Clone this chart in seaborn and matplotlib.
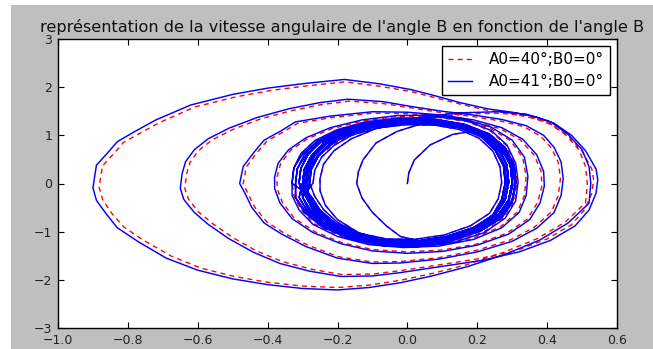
import numpy as np
import pandas as pd
import matplotlib
matplotlib.use("Agg")
import matplotlib.pyplot as plt
from matplotlib.patches import Rectangle
import seaborn as sns

# ---------------- data ----------------
title = "représentation de la vitesse angulaire de l'angle B en fonction de l'angle B"
label_red = "A0=40°;B0=0°"
label_blue = "A0=41°;B0=0°"
xticks = [-1.0, -0.8, -0.6, -0.4, -0.2, 0.0, 0.2, 0.4, 0.6]
yticks = [-3, -2, -1, 0, 1, 2, 3]

# start of the trajectory and the two small inner loops (shared by both runs)
start_x = [0.0, 0.004, 0.02, 0.065, 0.13, 0.2, 0.25, 0.28, 0.3, 0.302, 0.29, 0.26, 0.2, 0.12, 0.04,
           -0.02, -0.06, -0.1, -0.13, -0.145, -0.14, -0.127, -0.09, -0.03, 0.04, 0.12, 0.19, 0.24,
           0.28, 0.3, 0.31, 0.3, 0.27, 0.21, 0.12, 0.03, -0.06, -0.14, -0.2, -0.235, -0.25,
           -0.25, -0.24, -0.21, -0.16, -0.09, 0.0, 0.09, 0.17, 0.23, 0.27, 0.295, 0.3, 0.29, 0.26,
           0.2, 0.12, 0.03, -0.06, -0.15, -0.22, -0.265, -0.29]
start_y = [0.0, 0.22, 0.49, 0.8, 1.02, 1.1, 0.92, 0.65, 0.3, -0.05, -0.4, -0.72, -0.98, -1.15, -1.2,
           -1.1, -0.88, -0.6, -0.3, 0.0, 0.25, 0.49, 0.84, 1.08, 1.24, 1.27, 1.15, 0.95,
           0.65, 0.3, -0.05, -0.4, -0.72, -0.98, -1.16, -1.24, -1.2, -1.02, -0.75, -0.45, -0.15,
           0.1, 0.4, 0.68, 0.93, 1.14, 1.27, 1.3, 1.2, 1.0, 0.72, 0.38, 0.02, -0.34, -0.66,
           -0.94, -1.14, -1.24, -1.23, -1.1, -0.86, -0.57, -0.28]

# thick central band, first part (shared)
band1_x = [-0.31, -0.305, -0.285, -0.25, -0.19, -0.11, -0.02, 0.07, 0.15, 0.215, 0.26, 0.285, 0.29, 0.28, 0.25, 0.195, 0.115, 0.025, -0.065, -0.155, -0.225, -0.275, -0.30,
           -0.27, -0.265, -0.245, -0.21, -0.16, -0.09, -0.005, 0.08, 0.15, 0.205, 0.245, 0.265, 0.27, 0.26, 0.235, 0.18, 0.105, 0.02, -0.06, -0.14, -0.2, -0.24, -0.265,
           -0.28, -0.275, -0.255, -0.22, -0.165, -0.09, 0.0, 0.09, 0.17, 0.235, 0.28, 0.305, 0.31, 0.30, 0.27, 0.21, 0.13, 0.04, -0.05, -0.14, -0.205, -0.25, -0.275,
           -0.33, -0.325, -0.305, -0.265, -0.2, -0.12, -0.025, 0.075, 0.165, 0.235, 0.28, 0.305, 0.31, 0.30, 0.27, 0.21, 0.125, 0.03, -0.07, -0.165, -0.245, -0.295, -0.32,
           -0.32, -0.315, -0.295, -0.255, -0.195, -0.115, -0.02, 0.075, 0.16, 0.225, 0.27, 0.295, 0.30, 0.29, 0.26, 0.20, 0.12, 0.03, -0.065, -0.16, -0.235, -0.285, -0.31,
           -0.30, -0.295, -0.275, -0.24, -0.18, -0.10, -0.01, 0.08, 0.16, 0.225, 0.27, 0.295, 0.30, 0.29, 0.26, 0.20, 0.12, 0.03, -0.06, -0.15, -0.22, -0.265, -0.29,
           -0.285, -0.28, -0.26, -0.225, -0.17, -0.095, -0.005, 0.08, 0.155, 0.215, 0.255, 0.28, 0.285, 0.275, 0.25, 0.19, 0.11, 0.025, -0.06, -0.145, -0.21, -0.255, -0.28,
           -0.29, -0.285, -0.265, -0.23, -0.175, -0.10, -0.01, 0.075, 0.15, 0.21, 0.25, 0.275, 0.28, 0.27, 0.245, 0.19, 0.11, 0.025, -0.06, -0.145, -0.21, -0.255, -0.28]
band1_y = [0.02, 0.31, 0.60, 0.86, 1.08, 1.25, 1.33, 1.31, 1.21, 1.01, 0.73, 0.39, 0.03, -0.35, -0.68, -0.96, -1.16, -1.26, -1.25, -1.12, -0.88, -0.59, -0.29,
           0.01, 0.28, 0.55, 0.79, 1.0, 1.15, 1.22, 1.21, 1.12, 0.94, 0.67, 0.35, 0.02, -0.32, -0.62, -0.88, -1.07, -1.16, -1.15, -1.03, -0.81, -0.54, -0.27,
           0.01, 0.29, 0.57, 0.82, 1.04, 1.19, 1.27, 1.26, 1.17, 0.98, 0.71, 0.37, 0.01, -0.33, -0.65, -0.92, -1.11, -1.21, -1.20, -1.07, -0.84, -0.56, -0.27,
           0.0, 0.32, 0.62, 0.89, 1.12, 1.28, 1.36, 1.34, 1.23, 1.03, 0.75, 0.4, 0.02, -0.36, -0.7, -0.99, -1.2, -1.3, -1.29, -1.15, -0.9, -0.6, -0.3,
           0.0, 0.31, 0.60, 0.87, 1.10, 1.26, 1.35, 1.33, 1.22, 1.02, 0.74, 0.39, 0.02, -0.35, -0.68, -0.97, -1.18, -1.28, -1.27, -1.13, -0.89, -0.59, -0.29,
           0.0, 0.29, 0.57, 0.83, 1.04, 1.2, 1.28, 1.27, 1.17, 0.99, 0.71, 0.37, 0.02, -0.34, -0.67, -0.95, -1.15, -1.25, -1.24, -1.11, -0.87, -0.58, -0.28,
           0.01, 0.29, 0.56, 0.81, 1.02, 1.18, 1.25, 1.24, 1.15, 0.97, 0.69, 0.36, 0.02, -0.33, -0.64, -0.91, -1.1, -1.2, -1.19, -1.06, -0.84, -0.55, -0.27,
           0.01, 0.30, 0.58, 0.83, 1.05, 1.21, 1.29, 1.28, 1.18, 0.99, 0.71, 0.37, 0.02, -0.33, -0.65, -0.93, -1.12, -1.22, -1.21, -1.08, -0.85, -0.56, -0.28]

# large excursions, A0 = 41 deg (blue)
blue_outer_x = [-0.30, -0.295, -0.27, -0.23, -0.17, -0.09, 0.0, 0.09, 0.17, 0.24, 0.285, 0.31, 0.317,
                0.31, 0.28, 0.22, 0.13, 0.03, -0.07, -0.16, -0.23, -0.27, -0.29,
                -0.29, -0.28, -0.25, -0.2, -0.13, -0.04, 0.06, 0.16, 0.26, 0.34, 0.41, 0.46, 0.5, 0.52, 0.525,
                0.52, 0.46, 0.38, 0.28, 0.17, 0.07, -0.02, -0.11, -0.2, -0.3, -0.4, -0.5, -0.6, -0.69, -0.77, -0.83, -0.86, -0.89, -0.9,
                -0.895, -0.89, -0.86, -0.83, -0.78, -0.72, -0.62, -0.5, -0.4, -0.29, -0.18, -0.08, 0.01, 0.08, 0.15, 0.23, 0.3, 0.37, 0.42, 0.47, 0.51, 0.54, 0.545,
                0.54, 0.52, 0.48, 0.41, 0.32, 0.21, 0.1, -0.02, -0.1, -0.19, -0.28, -0.365, -0.44, -0.51, -0.57, -0.61, -0.64, -0.65,
                -0.645, -0.635, -0.61, -0.57, -0.51, -0.43, -0.34, -0.25, -0.17, -0.07, 0.01, 0.1, 0.19, 0.27, 0.34, 0.39, 0.42, 0.44, 0.446,
                0.44, 0.42, 0.37, 0.3, 0.2, 0.09, -0.02, -0.1, -0.2, -0.29, -0.36, -0.41, -0.445, -0.465,
                -0.48, -0.47, -0.44, -0.41, -0.36, -0.32, -0.22, -0.1, 0.0, 0.1, 0.19, 0.27, 0.33, 0.37, 0.39, 0.392,
                0.38, 0.35, 0.29, 0.2, 0.1, 0.0, -0.1, -0.19, -0.27, -0.33, -0.365, -0.38,
                -0.38, -0.37, -0.34, -0.29, -0.22, -0.13, -0.03, 0.07, 0.16, 0.24, 0.3, 0.335, 0.345,
                0.34, 0.32, 0.27, 0.19, 0.09, -0.01, -0.11, -0.2, -0.27, -0.31, -0.33]
blue_outer_y = [0.0, 0.3, 0.6, 0.87, 1.09, 1.25, 1.35, 1.38, 1.3, 1.1, 0.8, 0.42, 0.03,
                -0.36, -0.72, -1.02, -1.23, -1.31, -1.28, -1.13, -0.88, -0.58, -0.28,
                0.0, 0.32, 0.62, 0.9, 1.12, 1.29, 1.4, 1.47, 1.49, 1.44, 1.28, 1.02, 0.7, 0.35, 0.0,
                -0.41, -0.82, -1.17, -1.47, -1.73, -1.92, -2.06, -2.16, -2.21, -2.18, -2.1, -1.98, -1.8, -1.55, -1.21, -0.92, -0.65, -0.35, -0.09,
                0.15, 0.38, 0.62, 0.87, 1.08, 1.32, 1.63, 1.85, 1.98, 2.08, 2.16, 2.07, 1.95, 1.82, 1.68, 1.55, 1.48, 1.38, 1.25, 1.0, 0.68, 0.3, 0.08,
                -0.2, -0.55, -0.88, -1.18, -1.42, -1.6, -1.72, -1.85, -1.92, -1.93, -1.82, -1.66, -1.43, -1.15, -0.85, -0.6, -0.33, -0.1,
                0.2, 0.45, 0.7, 0.93, 1.15, 1.37, 1.55, 1.68, 1.75, 1.7, 1.6, 1.5, 1.42, 1.33, 1.2, 1.0, 0.75, 0.45, 0.1,
                -0.25, -0.6, -0.93, -1.2, -1.42, -1.57, -1.65, -1.66, -1.55, -1.31, -1.05, -0.82, -0.5, -0.2,
                0.0, 0.35, 0.64, 0.9, 1.1, 1.28, 1.4, 1.49, 1.48, 1.42, 1.32, 1.16, 0.92, 0.6, 0.25, -0.05,
                -0.4, -0.75, -1.05, -1.28, -1.41, -1.45, -1.4, -1.25, -1.02, -0.73, -0.4, -0.1,
                0.14, 0.42, 0.7, 0.95, 1.16, 1.32, 1.41, 1.42, 1.34, 1.17, 0.9, 0.55, 0.15,
                -0.25, -0.6, -0.92, -1.16, -1.3, -1.33, -1.27, -1.1, -0.85, -0.55, -0.25]

# large excursions, A0 = 40 deg (red dashed), slightly inside the blue ones
red_outer_x = [-0.298, -0.292, -0.268, -0.228, -0.168, -0.09, 0.0, 0.09, 0.17, 0.238, 0.283, 0.307, 0.314,
               0.307, 0.277, 0.218, 0.13, 0.03, -0.07, -0.158, -0.228, -0.268, -0.288,
               -0.288, -0.278, -0.248, -0.198, -0.13, -0.04, 0.06, 0.16, 0.26, 0.34, 0.405, 0.455, 0.492, 0.51, 0.515,
               0.51, 0.452, 0.373, 0.275, 0.168, 0.07, -0.02, -0.11, -0.2, -0.3, -0.4, -0.495, -0.59, -0.675, -0.755, -0.812, -0.845, -0.872, -0.882,
               -0.878, -0.872, -0.843, -0.813, -0.764, -0.705, -0.608, -0.49, -0.392, -0.285, -0.178, -0.08, 0.01, 0.08, 0.15, 0.228, 0.297, 0.364, 0.413, 0.462, 0.5, 0.528, 0.533,
               0.528, 0.508, 0.469, 0.4, 0.313, 0.205, 0.1, -0.02, -0.1, -0.187, -0.275, -0.358, -0.432, -0.5, -0.558, -0.598, -0.627, -0.637,
               -0.632, -0.622, -0.598, -0.558, -0.5, -0.421, -0.333, -0.245, -0.167, -0.07, 0.01, 0.1, 0.187, 0.265, 0.333, 0.382, 0.412, 0.432, 0.438,
               0.432, 0.412, 0.363, 0.295, 0.197, 0.09, -0.02, -0.1, -0.197, -0.285, -0.353, -0.402, -0.437, -0.457,
               -0.47, -0.461, -0.432, -0.402, -0.353, -0.314, -0.216, -0.1, 0.0, 0.1, 0.187, 0.265, 0.324, 0.363, 0.383, 0.385,
               0.373, 0.343, 0.285, 0.197, 0.1, 0.0, -0.1, -0.187, -0.265, -0.324, -0.358, -0.373,
               -0.373, -0.363, -0.334, -0.285, -0.216, -0.128, -0.03, 0.07, 0.158, 0.236, 0.295, 0.33, 0.34,
               0.335, 0.315, 0.266, 0.187, 0.09, -0.01, -0.11, -0.197, -0.266, -0.305, -0.325]
red_outer_y = [0.0, 0.3, 0.59, 0.86, 1.08, 1.24, 1.34, 1.37, 1.29, 1.09, 0.79, 0.42, 0.03,
               -0.35, -0.71, -1.01, -1.22, -1.3, -1.27, -1.12, -0.87, -0.57, -0.28,
               0.0, 0.31, 0.61, 0.88, 1.1, 1.26, 1.37, 1.44, 1.46, 1.41, 1.26, 1.0, 0.69, 0.35, 0.0,
               -0.4, -0.8, -1.14, -1.43, -1.69, -1.87, -2.01, -2.11, -2.16, -2.13, -2.05, -1.93, -1.76, -1.51, -1.18, -0.9, -0.63, -0.34, -0.09,
               0.15, 0.37, 0.6, 0.85, 1.05, 1.28, 1.59, 1.8, 1.93, 2.03, 2.11, 2.02, 1.91, 1.78, 1.65, 1.52, 1.45, 1.35, 1.22, 0.98, 0.67, 0.3, 0.08,
               -0.2, -0.54, -0.86, -1.15, -1.39, -1.56, -1.68, -1.81, -1.88, -1.89, -1.78, -1.62, -1.4, -1.12, -0.83, -0.59, -0.32, -0.1,
               0.2, 0.44, 0.68, 0.91, 1.12, 1.34, 1.51, 1.64, 1.71, 1.66, 1.57, 1.47, 1.39, 1.3, 1.18, 0.98, 0.74, 0.44, 0.1,
               -0.25, -0.59, -0.91, -1.17, -1.39, -1.54, -1.62, -1.63, -1.52, -1.28, -1.03, -0.8, -0.49, -0.2,
               0.0, 0.34, 0.63, 0.88, 1.08, 1.25, 1.37, 1.46, 1.45, 1.39, 1.29, 1.14, 0.9, 0.59, 0.25, -0.05,
               -0.39, -0.74, -1.03, -1.26, -1.38, -1.42, -1.37, -1.23, -1.0, -0.72, -0.39, -0.1,
               0.14, 0.41, 0.69, 0.93, 1.14, 1.3, 1.39, 1.4, 1.32, 1.15, 0.89, 0.54, 0.15,
               -0.25, -0.59, -0.9, -1.14, -1.28, -1.31, -1.25, -1.08, -0.84, -0.54, -0.25]

# thick central band, last part (shared)
band2_x = [-0.33, -0.325, -0.30, -0.26, -0.20, -0.115, -0.02, 0.08, 0.165, 0.235, 0.28, 0.305, 0.31, 0.30, 0.27, 0.21, 0.125, 0.035, -0.06, -0.16, -0.24, -0.29, -0.32,
           -0.32, -0.315, -0.29, -0.25, -0.19, -0.11, -0.015, 0.08, 0.16, 0.225, 0.27, 0.295, 0.30, 0.29, 0.26, 0.20, 0.12, 0.03, -0.065, -0.16, -0.235, -0.285, -0.31,
           -0.30, -0.295, -0.275, -0.24, -0.18, -0.10, -0.01, 0.075, 0.155, 0.22, 0.265, 0.285, 0.29, 0.28, 0.25, 0.195, 0.115, 0.03, -0.06, -0.15, -0.22, -0.265, -0.29,
           -0.28, -0.275, -0.255, -0.22, -0.165, -0.09, 0.0, 0.085, 0.16, 0.22, 0.26, 0.285, 0.29, 0.28, 0.25, 0.195, 0.115, 0.03, -0.055, -0.14, -0.205, -0.25, -0.275,
           -0.31, -0.305, -0.285, -0.25, -0.19, -0.105, -0.015, 0.08, 0.16, 0.225, 0.27, 0.295, 0.30, 0.29, 0.26, 0.20, 0.12, 0.03, -0.06, -0.155, -0.23, -0.275, -0.30,
           -0.31, -0.305, -0.285, -0.25, -0.19, -0.105, -0.015, 0.08, 0.165, 0.23, 0.275, 0.3, 0.31, 0.3, 0.27, 0.21, 0.125, 0.035, -0.06, -0.155, -0.23, -0.28, -0.30,
           -0.295, -0.29, -0.27, -0.235, -0.175, -0.1, -0.01, 0.075, 0.15, 0.21, 0.25, 0.275, 0.28, 0.27, 0.245, 0.19, 0.11, 0.025, -0.06, -0.15, -0.215, -0.26, -0.285,
           -0.29, -0.285, -0.265, -0.23, -0.17, -0.095, -0.005, 0.085, 0.165, 0.23, 0.27, 0.295, 0.30, 0.29, 0.26, 0.20, 0.12, 0.03, -0.06, -0.15, -0.215, -0.26, -0.285, -0.30]
band2_y = [0.02, 0.32, 0.61, 0.87, 1.09, 1.25, 1.34, 1.33, 1.22, 1.02, 0.74, 0.39, 0.03, -0.35, -0.68, -0.96, -1.17, -1.27, -1.26, -1.13, -0.89, -0.59, -0.29,
           0.02, 0.31, 0.59, 0.84, 1.06, 1.22, 1.3, 1.29, 1.19, 1.0, 0.72, 0.38, 0.02, -0.33, -0.65, -0.92, -1.12, -1.22, -1.21, -1.09, -0.86, -0.58, -0.29,
           0.0, 0.30, 0.58, 0.84, 1.07, 1.23, 1.31, 1.30, 1.20, 1.00, 0.72, 0.38, 0.02, -0.34, -0.66, -0.94, -1.14, -1.24, -1.23, -1.10, -0.86, -0.57, -0.28,
           0.0, 0.29, 0.56, 0.81, 1.03, 1.19, 1.27, 1.26, 1.16, 0.98, 0.7, 0.37, 0.02, -0.33, -0.64, -0.9, -1.1, -1.19, -1.18, -1.06, -0.83, -0.55, -0.27,
           0.01, 0.31, 0.59, 0.85, 1.08, 1.24, 1.32, 1.31, 1.20, 1.01, 0.73, 0.38, 0.02, -0.34, -0.67, -0.95, -1.15, -1.25, -1.24, -1.11, -0.87, -0.58, -0.28,
           0.01, 0.31, 0.6, 0.86, 1.09, 1.25, 1.33, 1.32, 1.21, 1.02, 0.73, 0.39, 0.02, -0.35, -0.68, -0.96, -1.16, -1.26, -1.25, -1.12, -0.88, -0.59, -0.29,
           0.0, 0.29, 0.57, 0.82, 1.03, 1.19, 1.26, 1.25, 1.16, 0.97, 0.7, 0.37, 0.02, -0.33, -0.65, -0.92, -1.11, -1.21, -1.2, -1.08, -0.85, -0.56, -0.28,
           0.0, 0.30, 0.58, 0.84, 1.06, 1.22, 1.30, 1.29, 1.19, 1.00, 0.72, 0.38, 0.02, -0.34, -0.66, -0.94, -1.14, -1.23, -1.22, -1.09, -0.85, -0.56, -0.27, 0.0]

# ---------------- assemble ----------------
red_x = start_x + band1_x + red_outer_x + band2_x
red_y = start_y + band1_y + red_outer_y + band2_y
blue_x = start_x + band1_x + blue_outer_x + band2_x
blue_y = start_y + band1_y + blue_outer_y + band2_y
df_red = pd.DataFrame({"B": red_x, "dB": red_y, "step": np.arange(len(red_x))})
df_blue = pd.DataFrame({"B": blue_x, "dB": blue_y, "step": np.arange(len(blue_x))})

# ---------------- style ----------------
plt.rcParams["font.family"] = ["DejaVu Sans"]
plt.rcParams["axes.unicode_minus"] = True

W, H = 653, 349
fig = plt.figure(figsize=(W / 100, H / 100), dpi=100)
fig.patch.set_facecolor("white")
fig.add_artist(Rectangle((11 / W, 0), 1 - 11 / W, 1 - 5 / H, transform=fig.transFigure,
                         facecolor="#bfbfbf", edgecolor="none", zorder=-5))

ax = fig.add_axes([58 / W, (H - 328) / H, (617 - 58) / W, (328 - 39) / H])
ax.set_facecolor("white")

sns.lineplot(data=df_red, x="B", y="dB", sort=False, estimator=None, ax=ax,
             color="#ff0000", linewidth=1.0, linestyle=(0, (3.6, 3.0)), label=label_red)
sns.lineplot(data=df_blue, x="B", y="dB", sort=False, estimator=None, ax=ax,
             color="#0000ff", linewidth=1.05, label=label_blue)

ax.set_xlim(-1.0, 0.6)
ax.set_ylim(-3, 3)
ax.set_xticks(xticks)
ax.set_yticks(yticks)
ax.set_xticklabels([f"{v:.1f}".replace("-", "\u2212") for v in xticks])
ax.set_yticklabels([f"{v}".replace("-", "\u2212") for v in yticks])
ax.set_xlabel("")
ax.set_ylabel("")
ax.tick_params(direction="in", top=True, right=True, length=4.5, width=0.8,
               labelsize=9, pad=4, colors="black", labelcolor="#222222")
for s in ax.spines.values():
    s.set_color("black")
    s.set_linewidth(1.0)

ax.set_title(title, fontsize=11.6, pad=5, color="#111111", x=0.508)

leg = ax.legend(loc="upper right", fontsize=11, frameon=True, fancybox=False,
                framealpha=1, edgecolor="black", borderaxespad=0.45,
                handlelength=1.6, handletextpad=1.1, labelspacing=0.45, borderpad=0.4)
leg.get_frame().set_linewidth(1.0)

fig.savefig("out.png", dpi=100)
